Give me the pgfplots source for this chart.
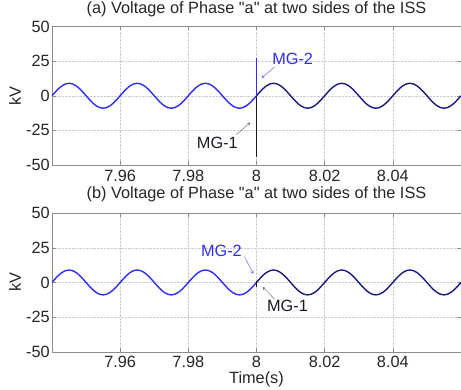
\documentclass[border=0pt]{standalone}
\usepackage{pgfplots}
\pgfplotsset{compat=1.18}
\usepackage{pgfplotstable}
\usepackage{fontspec}
\setmainfont{Liberation Sans}[Ligatures=TeXOff]
\definecolor{mblue}{RGB}{45,45,245}
\definecolor{mblack}{RGB}{25,25,35}

\pgfplotstableread{
t v
7.940 0
7.941 2.78
7.942 5.29
7.943 7.28
7.944 8.56
7.945 9
7.946 8.56
7.947 7.28
7.948 5.29
7.949 2.78
7.950 0
7.951 -2.78
7.952 -5.29
7.953 -7.28
7.954 -8.56
7.955 -9
7.956 -8.56
7.957 -7.28
7.958 -5.29
7.959 -2.78
7.960 0
7.961 2.78
7.962 5.29
7.963 7.28
7.964 8.56
7.965 9
7.966 8.56
7.967 7.28
7.968 5.29
7.969 2.78
7.970 0
7.971 -2.78
7.972 -5.29
7.973 -7.28
7.974 -8.56
7.975 -9
7.976 -8.56
7.977 -7.28
7.978 -5.29
7.979 -2.78
7.980 0
7.981 2.78
7.982 5.29
7.983 7.28
7.984 8.56
7.985 9
7.986 8.56
7.987 7.28
7.988 5.29
7.989 2.78
7.990 0
7.991 -2.78
7.992 -5.29
7.993 -7.28
7.994 -8.56
7.995 -9
7.996 -8.56
7.997 -7.28
7.998 -5.29
7.999 -2.78
8.000 0
8.001 2.78
8.002 5.29
8.003 7.28
8.004 8.56
8.005 9
8.006 8.56
8.007 7.28
8.008 5.29
8.009 2.78
8.010 0
8.011 -2.78
8.012 -5.29
8.013 -7.28
8.014 -8.56
8.015 -9
8.016 -8.56
8.017 -7.28
8.018 -5.29
8.019 -2.78
8.020 0
8.021 2.78
8.022 5.29
8.023 7.28
8.024 8.56
8.025 9
8.026 8.56
8.027 7.28
8.028 5.29
8.029 2.78
8.030 0
8.031 -2.78
8.032 -5.29
8.033 -7.28
8.034 -8.56
8.035 -9
8.036 -8.56
8.037 -7.28
8.038 -5.29
8.039 -2.78
8.040 0
8.041 2.78
8.042 5.29
8.043 7.28
8.044 8.56
8.045 9
8.046 8.56
8.047 7.28
8.048 5.29
8.049 2.78
8.050 0
8.051 -2.78
8.052 -5.29
8.053 -7.28
8.054 -8.56
8.055 -9
8.056 -8.56
8.057 -7.28
8.058 -5.29
8.059 -2.78
8.060 0
}\sine

\newcommand{\fs}{\fontsize{16.3}{19}\selectfont}

\pgfplotsset{myax/.style={
  scale only axis, width=409pt, height=138.5pt,
  xmin=7.94, xmax=8.06, ymin=-50, ymax=50,
  xtick={7.96,7.98,8,8.02,8.04}, xticklabels={7.96,7.98,8,8.02,8.04},
  ytick={-50,-25,0,25,50}, yticklabels={-50,-25,0,25,50},
  grid=major, major grid style={densely dotted, black!20},
  tick align=inside, major tick length=4pt,
  axis line style={black!45}, every tick/.style={black!45},
  tick label style={font=\fs, text=black!85},
  xticklabel style={inner ysep=1pt, yshift=-3.6pt},
  yticklabel style={xshift=1.3pt},
  label style={font=\fs, text=black!85},
  every axis title/.style={at={(0.5,1)}, anchor=base, font=\fs, text=black!85},
  ylabel={kV},
  ylabel style={at={(axis description cs:-0.0905,0.5)}, anchor=center},
}}

\begin{document}
\begin{tikzpicture}
\useasboundingbox (-52pt,-37.3pt) rectangle (409pt,351.7pt);
% top
\begin{axis}[myax, at={(0,186.7pt)},
  title style={yshift=12.5pt},
  title={(a) Voltage of Phase "a" at two sides of the ISS}]
\addplot[mblue, line width=1.4pt, smooth] table {\sine};
\addplot[mblack, line width=0.65pt, smooth, restrict x to domain=8:8.06] table {\sine};
\addplot[mblue, line width=1.1pt] coordinates {(8,0) (8,27)};
\addplot[mblack, line width=1.1pt] coordinates {(8,0) (8,-44)};
\node[text=mblue, font=\fs] at (axis cs:8.0106,26.6) {MG-2};
\draw[mblue!80, ->, >=stealth, thin] (axis cs:8.0053,20.8) -- (axis cs:8.0015,12.8);
\node[text=mblack, font=\fs] at (axis cs:7.9885,-33.9) {MG-1};
\draw[black!60, ->, >=stealth, thin] (axis cs:7.9941,-28.1) -- (axis cs:7.9982,-19.3);
\end{axis}
% bottom
\begin{axis}[myax, at={(0,0)},
  title style={yshift=15pt},
  title={(b) Voltage of Phase "a" at two sides of the ISS},
  xlabel={Time(s)},
  xlabel style={at={(axis description cs:0.5,0)}, anchor=base, inner sep=0pt, yshift=-31.3pt}]
\addplot[mblue, line width=1.4pt, smooth] table {\sine};
\addplot[mblack, line width=0.65pt, smooth, restrict x to domain=8:8.06] table {\sine};
\addplot[mblack, line width=1.1pt] coordinates {(8,1) (8,-3)};
\node[text=mblue, font=\fs] at (axis cs:7.9897,23) {MG-2};
\draw[mblue!80, ->, >=stealth, thin] (axis cs:7.9965,18.6) -- (axis cs:7.9991,6.2);
\node[text=mblack, font=\fs] at (axis cs:8.0091,-17.2) {MG-1};
\draw[black!60, ->, >=stealth, thin] (axis cs:8.0053,-12) -- (axis cs:8.0018,-3.3);
\end{axis}
\end{tikzpicture}
\end{document}
